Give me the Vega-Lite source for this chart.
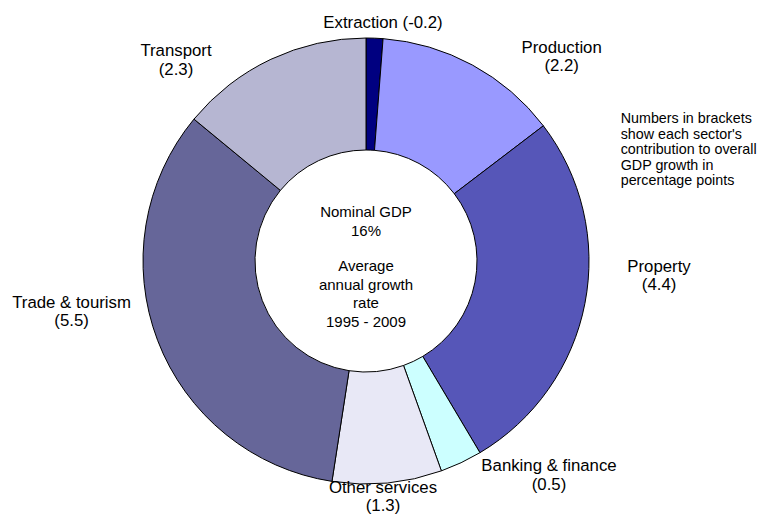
{
  "$schema": "https://vega.github.io/schema/vega-lite/v6.json",
  "width": 732,
  "height": 522,
  "autosize": "none",
  "padding": {"left": 0, "top": 0, "right": 27, "bottom": 0},
  "background": "white",
  "config": {"view": {"stroke": null}, "text": {"font": "Liberation Sans", "color": "black"}},
  "data": {
    "values": [
      {"sector": "Extraction", "contribution": -0.2, "share": 0.2, "order": 1, "label": "Extraction (-0.2)"},
      {"sector": "Production", "contribution": 2.2, "share": 2.2, "order": 2, "label": "Production\n(2.2)"},
      {"sector": "Property", "contribution": 4.4, "share": 4.4, "order": 3, "label": "Property\n(4.4)"},
      {"sector": "Banking & finance", "contribution": 0.5, "share": 0.5, "order": 4, "label": "Banking & finance\n(0.5)"},
      {"sector": "Other services", "contribution": 1.3, "share": 1.3, "order": 5, "label": "Other services\n(1.3)"},
      {"sector": "Trade & tourism", "contribution": 5.5, "share": 5.5, "order": 6, "label": "Trade & tourism\n(5.5)"},
      {"sector": "Transport", "contribution": 2.3, "share": 2.3, "order": 7, "label": "Transport\n(2.3)"}
    ]
  },
  "transform": [
    {"stack": "share", "groupby": [], "sort": [{"field": "order", "order": "ascending"}], "as": ["s0", "s1"]}
  ],
  "layer": [
    {
      "mark": {"type": "arc", "outerRadius": 223, "innerRadius": 111, "stroke": "black", "strokeWidth": 1},
      "encoding": {
        "theta": {"field": "s1", "type": "quantitative", "stack": null},
        "theta2": {"field": "s0"},
        "color": {
          "field": "sector",
          "type": "nominal",
          "scale": {
            "domain": ["Extraction", "Production", "Property", "Banking & finance", "Other services", "Trade & tourism", "Transport"],
            "range": ["#000080", "#9999ff", "#5656b8", "#ccffff", "#e8e8f6", "#666699", "#b6b6d2"]
          },
          "legend": null
        }
      }
    },
    {
      "transform": [{"filter": "datum.sector === 'Extraction'"}],
      "mark": {"type": "text", "radius": 238.6, "thetaOffset": 0.0714, "fontSize": 16.8, "lineBreak": "\n", "lineHeight": 18.5, "baseline": "middle"},
      "encoding": {"theta": {"field": "s0", "type": "quantitative", "stack": null}, "text": {"field": "label"}}
    },
    {
      "transform": [{"filter": "datum.sector === 'Production'"}],
      "mark": {"type": "text", "radius": 289.4, "thetaOffset": 0.6658, "fontSize": 16.8, "lineBreak": "\n", "lineHeight": 18.5, "baseline": "middle"},
      "encoding": {"theta": {"field": "s0", "type": "quantitative", "stack": null}, "text": {"field": "label"}}
    },
    {
      "transform": [{"filter": "datum.sector === 'Property'"}],
      "mark": {"type": "text", "radius": 293.1, "thetaOffset": 0.6709, "fontSize": 16.8, "lineBreak": "\n", "lineHeight": 18.5, "baseline": "middle"},
      "encoding": {"theta": {"field": "s0", "type": "quantitative", "stack": null}, "text": {"field": "label"}}
    },
    {
      "transform": [{"filter": "datum.sector === 'Banking & finance'"}],
      "mark": {"type": "text", "radius": 275, "thetaOffset": -0.1918, "fontSize": 16.8, "lineBreak": "\n", "lineHeight": 18.5, "baseline": "middle"},
      "encoding": {"theta": {"field": "s0", "type": "quantitative", "stack": null}, "text": {"field": "label"}}
    },
    {
      "transform": [{"filter": "datum.sector === 'Other services'"}],
      "mark": {"type": "text", "radius": 227.4, "thetaOffset": 0.270, "fontSize": 16.8, "lineBreak": "\n", "lineHeight": 18.5, "baseline": "middle"},
      "encoding": {"theta": {"field": "s0", "type": "quantitative", "stack": null}, "text": {"field": "label"}}
    },
    {
      "transform": [{"filter": "datum.sector === 'Trade & tourism'"}],
      "mark": {"type": "text", "radius": 297.4, "thetaOffset": 1.2767, "fontSize": 16.8, "lineBreak": "\n", "lineHeight": 18.5, "baseline": "middle"},
      "encoding": {"theta": {"field": "s0", "type": "quantitative", "stack": null}, "text": {"field": "label"}}
    },
    {
      "transform": [{"filter": "datum.sector === 'Transport'"}],
      "mark": {"type": "text", "radius": 283.2, "thetaOffset": 0.1457, "fontSize": 16.8, "lineBreak": "\n", "lineHeight": 18.5, "baseline": "middle"},
      "encoding": {"theta": {"field": "s0", "type": "quantitative", "stack": null}, "text": {"field": "label"}}
    },
    {
      "data": {"values": [{"t": "Nominal GDP\n16%"}]},
      "mark": {"type": "text", "fontSize": 15, "lineBreak": "\n", "lineHeight": 18.7, "baseline": "middle", "dy": -49},
      "encoding": {"text": {"field": "t"}}
    },
    {
      "data": {"values": [{"t": "Average\nannual growth\nrate\n1995 - 2009"}]},
      "mark": {"type": "text", "fontSize": 15, "lineBreak": "\n", "lineHeight": 18.7, "baseline": "middle", "dy": 5},
      "encoding": {"text": {"field": "t"}}
    },
    {
      "data": {"values": [{"t": "Numbers in brackets\nshow each sector's\ncontribution to overall\nGDP growth in\npercentage points"}]},
      "mark": {"type": "text", "fontSize": 14.3, "lineBreak": "\n", "lineHeight": 15.5, "baseline": "middle", "align": "left", "theta": 1.0622, "radius": 291.6},
      "encoding": {"text": {"field": "t"}}
    }
  ]
}
